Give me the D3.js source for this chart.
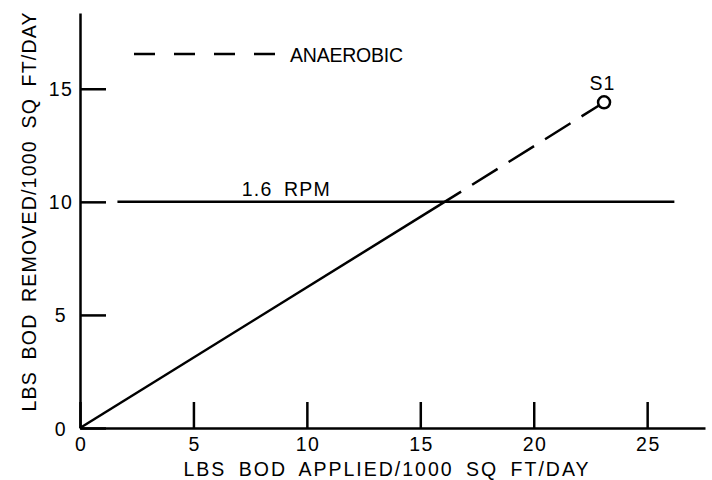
<!DOCTYPE html>
<html>
<head>
<meta charset="utf-8">
<script src="https://cdn.jsdelivr.net/npm/d3@7"></script>
<style>
  html, body { margin: 0; padding: 0; background: #fff; }
  svg text { font-family: "Liberation Sans", Arial, sans-serif; fill: #000; }
</style>
</head>
<body>
<svg id="chart" width="712" height="480"></svg>
<script>
// BOD removal vs. BOD applied (lbs / 1000 sq ft / day)
const xTicks = [0, 5, 10, 15, 20, 25];
const yTicks = [0, 5, 10, 15];

// Removal line: aerobic (solid) up to the break point, anaerobic (dashed) to S1
const appliedLoad = [0, 16.8, 23.1];
const removedLoad = [0, 10.45, 14.4];

// 1.6 RPM reference line
const rpmLabel = "1.6 RPM";
const rpmX = [1.65, 26.2];
const rpmY = [10, 10];

// Sample point
const sampleName = ["S1"];
const sampleX = [23.1];
const sampleY = [14.4];

const legendLabel = "ANAEROBIC";
const xTitle = "LBS BOD APPLIED/1000 SQ FT/DAY";
const yTitle = "LBS BOD REMOVED/1000 SQ FT/DAY";

const svg = d3.select("#chart");
const ink = "#000";
const lw = 2.5;
const fs = 19.5;

const x = d3.scaleLinear().domain([0, 27.55]).range([80, 705]);
const y = d3.scaleLinear().domain([0, 18.35]).range([428, 13]);

// Axes with inward ticks
const gx = svg.append("g")
  .attr("transform", `translate(0,${y(0)})`)
  .call(d3.axisBottom(x).tickValues(xTicks).tickSizeInner(-26).tickSizeOuter(0));
const gy = svg.append("g")
  .attr("transform", `translate(${x(0)},0)`)
  .call(d3.axisLeft(y).tickValues(yTicks).tickSizeInner(-26).tickSizeOuter(0));

[gx, gy].forEach(g => {
  g.selectAll("path.domain").attr("stroke", ink).attr("stroke-width", lw);
  g.selectAll(".tick line").attr("stroke", ink).attr("stroke-width", lw);
  g.selectAll(".tick text").attr("font-size", fs).attr("fill", ink)
    .attr("font-family", "\"Liberation Sans\", Arial, sans-serif")
    .attr("letter-spacing", 1.5);
});
gx.selectAll(".tick text").attr("dy", 0).attr("y", 23).attr("dx", 0.75);
gy.selectAll(".tick text").attr("x", -19).attr("text-anchor", "middle")
  .attr("dy", "0.36em");

// Axis titles
svg.append("text")
  .attr("x", 386).attr("y", 476)
  .attr("text-anchor", "middle")
  .attr("font-size", fs)
  .attr("word-spacing", 5)
  .attr("textLength", 405).attr("lengthAdjust", "spacing")
  .text(xTitle);

svg.append("text")
  .attr("transform", `translate(36,212) rotate(-90)`)
  .attr("text-anchor", "middle")
  .attr("font-size", fs)
  .attr("word-spacing", 5)
  .attr("textLength", 399).attr("lengthAdjust", "spacing")
  .text(yTitle);

// Reference line at 1.6 RPM
const line = d3.line().x(d => x(d[0])).y(d => y(d[1]));
svg.append("path")
  .attr("d", line(d3.zip(rpmX, rpmY)))
  .attr("fill", "none").attr("stroke", ink).attr("stroke-width", lw);

svg.append("text")
  .attr("x", x(9.07)).attr("y", y(rpmY[0]) - 6)
  .attr("text-anchor", "middle")
  .attr("font-size", fs)
  .attr("word-spacing", 5)
  .attr("textLength", 88).attr("lengthAdjust", "spacing")
  .text(rpmLabel);

// Removal line: solid then dashed
const pts = d3.zip(appliedLoad, removedLoad);
svg.append("path")
  .attr("d", line(pts.slice(0, 2)))
  .attr("fill", "none").attr("stroke", ink).attr("stroke-width", lw);

const r = 6;
// dashed part stops at the circle edge
const p1 = pts[1], p2 = pts[2];
const dxp = x(p2[0]) - x(p1[0]), dyp = y(p2[1]) - y(p1[1]);
const len = Math.hypot(dxp, dyp);
svg.append("path")
  .attr("d", `M${x(p1[0])},${y(p1[1])}L${x(p2[0]) - dxp / len * r},${y(p2[1]) - dyp / len * r}`)
  .attr("fill", "none").attr("stroke", ink).attr("stroke-width", lw)
  .attr("stroke-dasharray", "30 13").attr("stroke-dashoffset", 30);

// Sample point
const samples = d3.zip(sampleX, sampleY, sampleName);
svg.selectAll("circle.sample")
  .data(samples)
  .join("circle")
  .attr("class", "sample")
  .attr("cx", d => x(d[0])).attr("cy", d => y(d[1]))
  .attr("r", r)
  .attr("fill", "#fff").attr("stroke", ink).attr("stroke-width", lw);

svg.selectAll("text.sample")
  .data(samples)
  .join("text")
  .attr("class", "sample")
  .attr("x", d => x(d[0]) - 1.5).attr("y", d => y(d[1]) - 12)
  .attr("text-anchor", "middle")
  .attr("font-size", fs)
  .attr("letter-spacing", 1)
  .text(d => d[2]);

// Legend
svg.append("line")
  .attr("x1", 134).attr("x2", 276).attr("y1", 54).attr("y2", 54)
  .attr("stroke", ink).attr("stroke-width", lw)
  .attr("stroke-dasharray", "21 19");
svg.append("text")
  .attr("x", 290).attr("y", 62)
  .attr("font-size", fs)
  .attr("textLength", 113).attr("lengthAdjust", "spacing")
  .text(legendLabel);
</script>
</body>
</html>
